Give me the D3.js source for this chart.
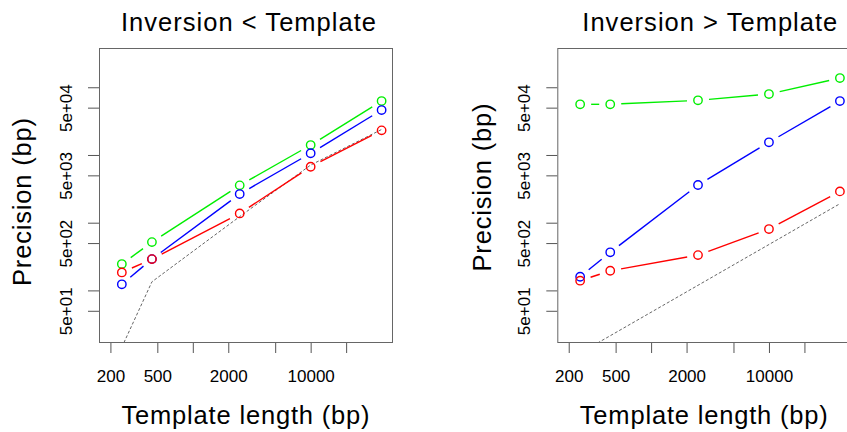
<!DOCTYPE html>
<html>
<head>
<meta charset="utf-8">
<script src="https://cdn.jsdelivr.net/npm/d3@7"></script>
<style>
  body { margin: 0; background: #fff; }
  text { font-family: "Liberation Sans", Arial, sans-serif; fill: #000; }
</style>
</head>
<body>
<svg id="chart"></svg>
<script>
// Data
const templateLengths = [250, 450, 2500, 10000, 40000]

const leftGreen = [245, 517, 3560, 14000, 62500]
const leftBlue = [123, 290, 2650, 10600, 46100]
const leftRed = [184, 290, 1370, 6700, 23100]
const leftRef = [14.5, 134, 1230, 7100, 23800]

const rightGreen = [56000, 56000, 64100, 79400, 136800]
const rightBlue = [159, 365, 3600, 15400, 62500]
const rightRed = [139, 195, 332, 805, 2900]
const rightRef = [11.9, 21.4, 119, 476, 1905]

const xTicks = [200, 500, 1000, 2000, 5000, 10000, 20000]
const xTickLabels = ["200", "500", "", "2000", "", "10000", ""]
const yTicks = [50, 100, 500, 1000, 5000, 10000, 50000, 100000]
const yTickLabels = ["5e+01", "", "5e+02", "", "5e+03", "", "5e+04", ""]

const panelTitles = ["Inversion < Template", "Inversion > Template"]

// Layout
var svgWidth = 847, svgHeight = 432
var plotW = 293, plotH = 294, plotTop = 48
var panels = [
    { left: 99, title: panelTitles[0], titleShift: 3, ylabY: 202, ylabX: 30.5,
      series: [[leftGreen, "#00ee00"], [leftBlue, "#0000ff"], [leftRed, "#ff0000"]], ref: leftRef },
    { left: 557.3, title: panelTitles[1], titleShift: 6, ylabY: 187.5, ylabX: 490.5,
      series: [[rightGreen, "#00ee00"], [rightBlue, "#0000ff"], [rightRed, "#ff0000"]], ref: rightRef }
]

var svg = d3.select('#chart')
    .attr("width", svgWidth)
    .attr("height", svgHeight)

var x = d3.scaleLog().domain([160, 49000]).range([0, plotW])
var y = d3.scaleLog().domain([17.3, 380000]).range([plotH, 0])

var gap = 11

panels.forEach((p, pi) => {
    var g = svg.append("g")
        .attr("transform", "translate(" + [p.left, plotTop] + ")")

    g.append("clipPath")
        .attr("id", "clip" + pi)
        .append("rect")
        .attr("width", plotW)
        .attr("height", plotH)

    // x axis
    var xAxis = g.append("g")
        .attr("transform", "translate(0," + plotH + ")")
        .call(d3.axisBottom(x)
            .tickValues(xTicks)
            .tickFormat((d, i) => xTickLabels[i])
            .tickSize(11)
            .tickPadding(16.5))
    xAxis.select(".domain").remove()
    xAxis.selectAll("line").attr("stroke", "#555")
    xAxis.selectAll("text")
        .style("font-size", "17px")
        .style("font-family", "Liberation Sans, Arial, sans-serif")
        .attr("fill", "#111")

    // y axis
    var yAxis = g.append("g")
        .call(d3.axisLeft(y)
            .tickValues(yTicks)
            .tickFormat((d, i) => yTickLabels[i])
            .tickSize(11))
    yAxis.select(".domain").remove()
    yAxis.selectAll("line").attr("stroke", "#555")
    yAxis.selectAll("text")
        .attr("x", null)
        .attr("dy", null)
        .attr("text-anchor", "middle")
        .attr("transform", "translate(-27.3,0) rotate(-90)")
        .style("font-size", "17px")
        .style("font-family", "Liberation Sans, Arial, sans-serif")
        .attr("fill", "#111")

    // box
    g.append("rect")
        .attr("x", 0.5)
        .attr("y", 0.5)
        .attr("width", plotW)
        .attr("height", plotH)
        .attr("fill", "none")
        .attr("stroke", "#666")
        .attr("stroke-width", 1)

    var plot = g.append("g").attr("clip-path", "url(#clip" + pi + ")")

    // series: lines with gaps around the points
    p.series.forEach(([vals, col]) => {
        var pts = vals.map((v, i) => [x(templateLengths[i]), y(v)])
        var segs = d3.pairs(pts).map(([a, b]) => {
            var dx = b[0] - a[0], dy = b[1] - a[1]
            var len = Math.sqrt(dx * dx + dy * dy)
            if (len <= 2 * gap) return null
            var ux = dx / len, uy = dy / len
            return [a[0] + ux * gap, a[1] + uy * gap, b[0] - ux * gap, b[1] - uy * gap]
        }).filter(s => s)

        g.selectAll(null)
            .data(segs)
            .enter()
            .append("line")
            .attr("x1", d => d[0])
            .attr("y1", d => d[1])
            .attr("x2", d => d[2])
            .attr("y2", d => d[3])
            .attr("stroke", col)
            .attr("stroke-width", 1.4)

        g.selectAll(null)
            .data(pts)
            .enter()
            .append("circle")
            .attr("cx", d => d[0])
            .attr("cy", d => d[1])
            .attr("r", 4.2)
            .attr("fill", "none")
            .attr("stroke", col)
            .attr("stroke-width", 1.4)
    })

    // dotted reference line
    plot.append("path")
        .datum(p.ref)
        .attr("d", d3.line()
            .x((d, i) => x(templateLengths[i]))
            .y(d => y(d)))
        .attr("fill", "none")
        .attr("stroke", "#666")
        .attr("stroke-width", 1)
        .attr("stroke-dasharray", "3,2")

    // title
    svg.append("text")
        .attr("x", p.left + plotW / 2 + p.titleShift)
        .attr("y", 30.5)
        .attr("text-anchor", "middle")
        .attr("textLength", 255)
        .attr("lengthAdjust", "spacing")
        .style("font-size", "25.5px")
        .text(p.title)

    // x label
    svg.append("text")
        .attr("x", p.left + plotW / 2)
        .attr("y", 424)
        .attr("text-anchor", "middle")
        .attr("textLength", 248)
        .attr("lengthAdjust", "spacing")
        .style("font-size", "25.5px")
        .text("Template length (bp)")

    // y label
    svg.append("text")
        .attr("transform", "translate(" + [p.ylabX, p.ylabY] + ") rotate(-90)")
        .attr("text-anchor", "middle")
        .attr("textLength", 168)
        .attr("lengthAdjust", "spacing")
        .style("font-size", "25.5px")
        .text("Precision (bp)")
})
</script>
</body>
</html>
